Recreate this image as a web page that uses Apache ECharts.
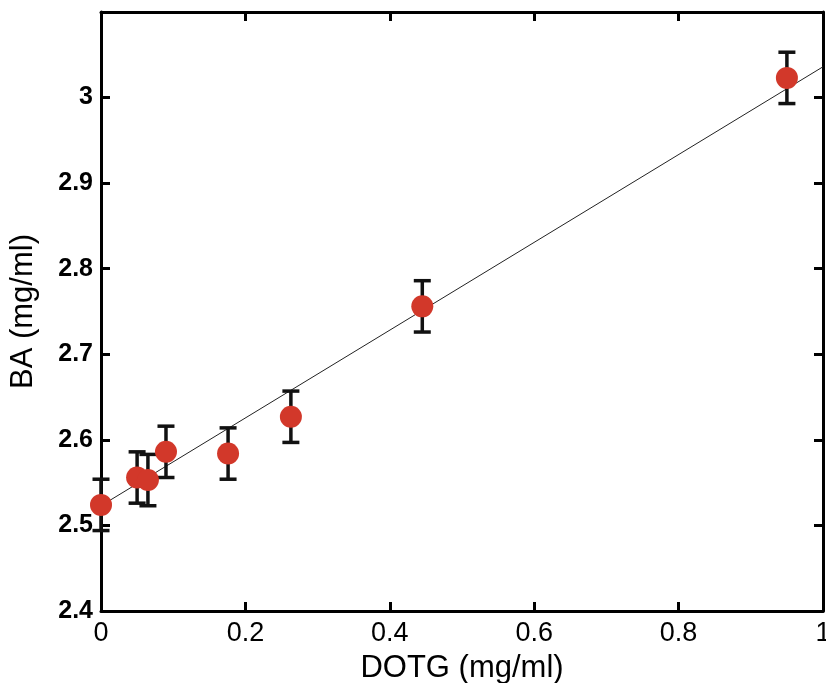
<!DOCTYPE html>
<html><head><meta charset="utf-8">
<script src="https://cdn.jsdelivr.net/npm/echarts@6/dist/echarts.min.js"></script>
<style>html,body{margin:0;padding:0;background:#fff}#c{width:826px;height:683px}</style>
</head><body><div id="c"></div>
<script>
const dotg = [0, 0.05, 0.065, 0.09, 0.176, 0.263, 0.445, 0.95];
const ba = [2.524, 2.556, 2.553, 2.586, 2.584, 2.627, 2.756, 3.023];
const err = [0.03, 0.03, 0.03, 0.03, 0.03, 0.03, 0.03, 0.03];
const fitX = [0, 1];
const fitY = [2.523, 3.036];
const xTicks = [0, 0.2, 0.4, 0.6, 0.8, 1];
const yTicks = [2.4, 2.5, 2.6, 2.7, 2.8, 2.9, 3];

const chart = echarts.init(document.getElementById('c'));
const axisLine = {show: true, onZero: false, lineStyle: {color: '#000', width: 3}};
const axisTick = {show: true, inside: true, length: 9, lineStyle: {color: '#000', width: 3}};
chart.setOption({
  animation: false,
  grid: {left: 101, top: 12, right: 3, bottom: 72, outerBoundsMode: 'none', containLabel: false},
  xAxis: [{
    type: 'value', min: 0, max: 1, interval: 0.2, position: 'bottom',
    axisLine, axisTick, splitLine: {show: false},
    axisLabel: {color: '#000', fontSize: 27, fontFamily: 'Liberation Sans', margin: 9,
      formatter: v => xTicks.some(t => Math.abs(t - v) < 1e-6) ? String(Math.round(v * 10) / 10) : ''},
    name: 'DOTG (mg/ml)', nameLocation: 'middle', nameGap: 42,
    nameTextStyle: {color: '#000', fontSize: 31, fontFamily: 'Liberation Sans'}
  }, {
    type: 'value', min: 0, max: 1, interval: 0.2, position: 'top',
    axisLine, axisTick, axisLabel: {show: false}, splitLine: {show: false}
  }],
  yAxis: [{
    type: 'value', min: 2.4, max: 3.1, interval: 0.1, position: 'left',
    axisLine, axisTick, splitLine: {show: false},
    axisLabel: {color: '#000', fontSize: 25, fontWeight: 'bold', fontFamily: 'Liberation Sans', margin: 8,
      showMaxLabel: false,
      formatter: v => yTicks.some(t => Math.abs(t - v) < 1e-6) ? String(Math.round(v * 10) / 10) : ''},
    name: 'BA (mg/ml)', nameLocation: 'middle', nameGap: 62,
    nameTextStyle: {color: '#000', fontSize: 31, fontFamily: 'Liberation Sans'}
  }, {
    type: 'value', min: 2.4, max: 3.1, interval: 0.1, position: 'right',
    axisLine, axisTick, axisLabel: {show: false}, splitLine: {show: false}
  }],
  series: [
    {
      type: 'line', data: fitX.map((x, i) => [x, fitY[i]]), symbol: 'none',
      lineStyle: {color: '#222', width: 1}, z: 2
    },
    {
      type: 'custom', z: 3,
      data: dotg.map((x, i) => [x, ba[i] - err[i], ba[i] + err[i]]),
      renderItem: (params, api) => {
        const lo = api.coord([api.value(0), api.value(1)]);
        const hi = api.coord([api.value(0), api.value(2)]);
        const w = 8.5;
        const st = {stroke: '#111', lineWidth: 3.5};
        return {type: 'group', children: [
          {type: 'line', shape: {x1: lo[0], y1: lo[1], x2: hi[0], y2: hi[1]}, style: st},
          {type: 'line', shape: {x1: lo[0] - w, y1: lo[1], x2: lo[0] + w, y2: lo[1]}, style: st},
          {type: 'line', shape: {x1: hi[0] - w, y1: hi[1], x2: hi[0] + w, y2: hi[1]}, style: st}
        ]};
      }
    },
    {
      type: 'scatter', z: 4, data: dotg.map((x, i) => [x, ba[i]]),
      symbolSize: 22, itemStyle: {color: '#d2382a', opacity: 1}
    }
  ]
});
</script></body></html>
